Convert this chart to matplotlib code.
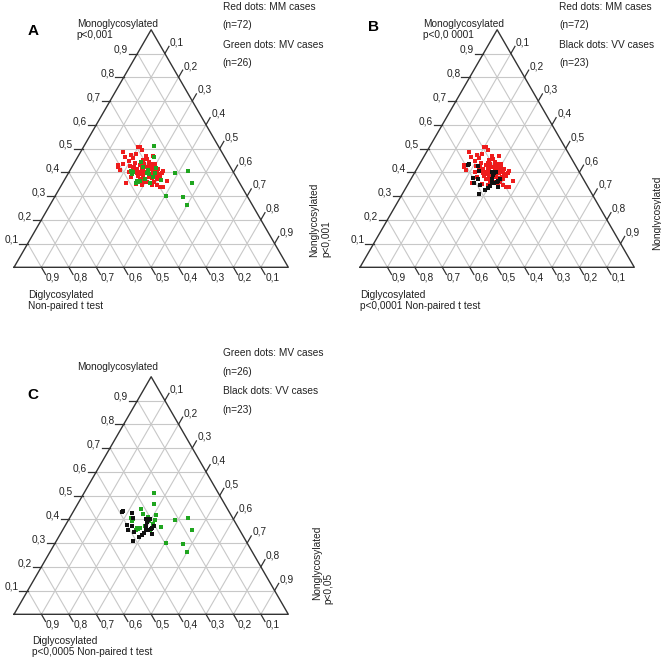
import numpy as np
import matplotlib.pyplot as plt

plt.rcParams['font.family'] = ['Liberation Sans', 'DejaVu Sans']

# MM cases (red), fractions: monoglycosylated / nonglycosylated (di = 1 - mono - non)
mm_mono = [0.508, 0.505, 0.494, 0.484, 0.477, 0.466, 0.470, 0.469, 0.431, 0.421,
           0.434, 0.448, 0.427, 0.424, 0.431, 0.434, 0.431, 0.435, 0.435, 0.413,
           0.417, 0.410, 0.403, 0.413, 0.403, 0.407, 0.396, 0.393, 0.384, 0.379,
           0.384, 0.356, 0.351, 0.359, 0.347, 0.337, 0.365, 0.360, 0.379, 0.417,
           0.396, 0.403, 0.393, 0.386, 0.375, 0.381, 0.421, 0.445, 0.452, 0.459,
           0.403, 0.410, 0.417, 0.413, 0.396, 0.360, 0.371, 0.389, 0.375, 0.407,
           0.398, 0.438, 0.455, 0.473, 0.371, 0.339, 0.347, 0.347, 0.413, 0.424,
           0.403, 0.438]
mm_non = [0.199, 0.206, 0.219, 0.156, 0.206, 0.172, 0.246, 0.274, 0.162, 0.169,
          0.179, 0.196, 0.210, 0.225, 0.244, 0.257, 0.275, 0.284, 0.296, 0.241,
          0.258, 0.266, 0.256, 0.290, 0.319, 0.341, 0.308, 0.330, 0.340, 0.301,
          0.277, 0.230, 0.269, 0.295, 0.347, 0.364, 0.375, 0.330, 0.236, 0.225,
          0.283, 0.285, 0.267, 0.260, 0.315, 0.327, 0.267, 0.271, 0.243, 0.206,
          0.216, 0.181, 0.306, 0.320, 0.340, 0.304, 0.274, 0.302, 0.284, 0.305,
          0.251, 0.222, 0.257, 0.189, 0.337, 0.374, 0.293, 0.329, 0.284, 0.292,
          0.277, 0.247]

# MV cases (green)
mv_mono = [0.511, 0.398, 0.407, 0.354, 0.301, 0.297, 0.262, 0.463, 0.445, 0.392,
           0.363, 0.360, 0.365, 0.396, 0.392, 0.354, 0.417, 0.424, 0.381, 0.368,
           0.405, 0.410, 0.398, 0.372, 0.403, 0.353]
mv_non = [0.256, 0.389, 0.432, 0.472, 0.403, 0.468, 0.499, 0.280, 0.240, 0.233,
          0.266, 0.273, 0.277, 0.286, 0.297, 0.319, 0.310, 0.259, 0.315, 0.351,
          0.224, 0.282, 0.315, 0.292, 0.234, 0.269]

# VV cases (black)
vv_mono = [0.431, 0.435, 0.427, 0.407, 0.375, 0.356, 0.371, 0.347, 0.309, 0.325,
           0.333, 0.371, 0.356, 0.356, 0.360, 0.365, 0.396, 0.403, 0.389, 0.339,
           0.342, 0.371, 0.403]
vv_non = [0.177, 0.180, 0.218, 0.230, 0.226, 0.239, 0.244, 0.264, 0.280, 0.295,
          0.300, 0.295, 0.302, 0.312, 0.318, 0.322, 0.292, 0.294, 0.292, 0.332,
          0.303, 0.325, 0.279]

levels = [0.1, 0.2, 0.3, 0.4, 0.5, 0.6, 0.7, 0.8, 0.9]
tick_labels = ['0,1', '0,2', '0,3', '0,4', '0,5', '0,6', '0,7', '0,8', '0,9']

RED = '#ee1c1c'
GREEN = '#1fa51f'
BLACK = '#111111'
GRID = '#c8c8c8'
TXT = '#222222'
FS = 7.3
S = np.sqrt(3) / 2
W, H = 661.0, 661.0


def tern(mono, non):
    mono = np.asarray(mono, dtype=float)
    non = np.asarray(non, dtype=float)
    return non + mono / 2, mono * S


def draw_triangle(ax):
    for k in levels:
        x, y = tern([k, k], [0, 1 - k])
        ax.plot(x, y, color=GRID, lw=0.8, zorder=1)
        x, y = tern([0, 1 - k], [k, k])
        ax.plot(x, y, color=GRID, lw=0.8, zorder=1)
        x, y = tern([0, 1 - k], [1 - k, 0])
        ax.plot(x, y, color=GRID, lw=0.8, zorder=1)
    x, y = tern([0, 0, 1, 0], [0, 1, 0, 0])
    ax.plot(x, y, color='#333333', lw=1.0, zorder=2, clip_on=False)

    L = 0.03
    for k, lab in zip(levels, tick_labels):
        # monoglycosylated ticks (left edge)
        x0, y0 = tern(k, 0)
        ax.plot([x0, x0 - L], [y0, y0], color='#333333', lw=0.9, clip_on=False)
        ax.text(x0 - L - 0.004, y0 + 0.013, lab, ha='right', va='center',
                fontsize=FS, color=TXT)
        # nonglycosylated ticks (right edge)
        x0, y0 = tern(1 - k, k)
        x1, y1 = x0 + L * 0.5, y0 + L * S
        ax.plot([x0, x1], [y0, y1], color='#333333', lw=0.9, clip_on=False)
        ax.text(x1 + 0.004, y1 + 0.015, lab, ha='left', va='center',
                fontsize=FS, color=TXT)
        # diglycosylated ticks (bottom edge)
        x0, y0 = tern(0, 1 - k)
        x1, y1 = x0 + L * 0.5, y0 - L * S
        ax.plot([x0, x1], [y0, y1], color='#333333', lw=0.9, clip_on=False)
        ax.text(x1 + 0.002, y1 - 0.01, lab, ha='left', va='center',
                fontsize=FS, color=TXT)


def add_panel(fig, left_px, base_px, series):
    width = 274.3
    ax = fig.add_axes([left_px / W, (H - base_px) / H, width / W, width * S / H])
    ax.set_xlim(0, 1)
    ax.set_ylim(0, S)
    ax.axis('off')
    draw_triangle(ax)
    for mono, non, col in series:
        x, y = tern(mono, non)
        ax.plot(x, y, 's', color=col, ms=2.3, mew=0, zorder=3, clip_on=False)
    return ax


def ftext(px, py, s, **kw):
    kw.setdefault('fontsize', FS)
    kw.setdefault('color', TXT)
    kw.setdefault('va', 'center')
    kw.setdefault('ha', 'left')
    fig.text(px / W, 1 - py / H, s, **kw)


fig = plt.figure(figsize=(6.61, 6.61), dpi=100)

add_panel(fig, 14, 267.3, [(mm_mono, mm_non, RED), (mv_mono, mv_non, GREEN)])
add_panel(fig, 360, 267.3, [(mm_mono, mm_non, RED), (vv_mono, vv_non, BLACK)])
add_panel(fig, 14, 614.3, [(mv_mono, mv_non, GREEN), (vv_mono, vv_non, BLACK)])

# panel A texts
ftext(33, 31, 'A', fontsize=11, fontweight='bold', ha='center', color='black')
ftext(76.7, 24, 'Monoglycosylated')
ftext(76.7, 34.7, 'p<0,001')
ftext(222.7, 6.7, 'Red dots: MM cases')
ftext(222.7, 25.5, '(n=72)')
ftext(222.7, 44.5, 'Green dots: MV cases')
ftext(222.7, 63, '(n=26)')
ftext(28.3, 294.5, 'Diglycosylated')
ftext(28.3, 306, 'Non-paired t test')
ftext(314, 257, 'Nonglycosylated', rotation=90, ha='center', va='bottom')
ftext(326, 257, 'p<0,001', rotation=90, ha='center', va='bottom')

# panel B texts
ftext(373.3, 26.7, 'B', fontsize=11, fontweight='bold', ha='center', color='black')
ftext(423.3, 24, 'Monoglycosylated')
ftext(423.3, 34.7, 'p<0,0 0001')
ftext(559.3, 6.7, 'Red dots: MM cases')
ftext(559.3, 25.5, '(n=72)')
ftext(559.3, 44.5, 'Black dots: VV cases')
ftext(559.3, 63, '(n=23)')
ftext(360, 294.5, 'Diglycosylated')
ftext(360, 306, 'p<0,0001 Non-paired t test')
ftext(657, 250, 'Nonglycosylated', rotation=90, ha='center', va='bottom')

# panel C texts
ftext(33, 395, 'C', fontsize=11, fontweight='bold', ha='center', color='black')
ftext(76.7, 366.7, 'Monoglycosylated')
ftext(222.7, 353.3, 'Green dots: MV cases')
ftext(222.7, 372.3, '(n=26)')
ftext(222.7, 391, 'Black dots: VV cases')
ftext(222.7, 410, '(n=23)')
ftext(31.7, 641.5, 'Diglycosylated')
ftext(31.7, 652, 'p<0,0005 Non-paired t test')
ftext(316.7, 600, 'Nonglycosylated', rotation=90, ha='center', va='bottom')
ftext(328, 604, 'p<0,05', rotation=90, ha='center', va='bottom')

fig.savefig('out.png', dpi=100, facecolor='white')
